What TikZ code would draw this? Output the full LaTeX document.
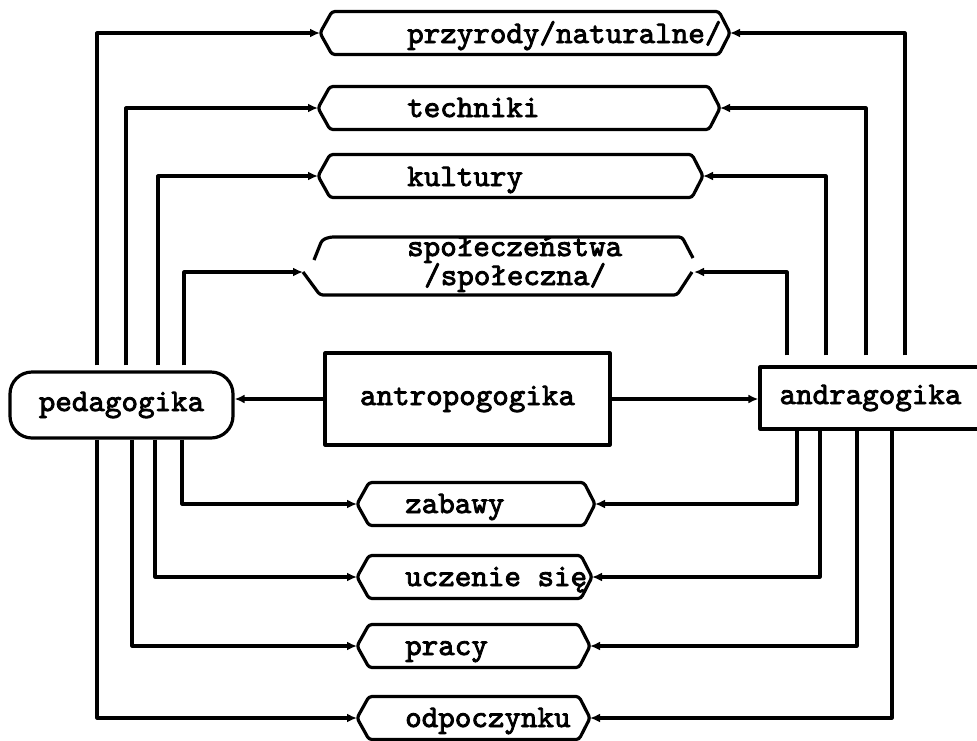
\documentclass[tikz,border=0pt]{standalone}
\usepackage{fontspec}
\usetikzlibrary{arrows.meta}
\newfontfamily\dgtt{lmmono10-regular.otf}[AutoFakeBold=2.6]
\newcommand\dgfont{\fontsize{31.5}{34}\selectfont\dgtt\bfseries}
\newcommand\hexa[4]{% name, left tip x, right tip x, centre y
  \draw[lw, rounded corners=3pt] (#2,#4) -- (#2+12,#4-21.5) -- (#3-11,#4-21.5) -- (#3,#4) -- (#3-11,#4+21.5) -- (#2+12,#4+21.5) -- cycle;
  \coordinate (#1-w) at (#2,#4);
  \coordinate (#1-e) at (#3,#4);}
\begin{document}
\begin{tikzpicture}[x=1pt,y=-1pt,
  lw/.style={line width=3.2pt, line join=round},
  conn/.style={lw, -{Latex[length=10pt,width=9pt]}},
  box/.style={draw, lw, inner sep=0pt, font=\dgfont},
  lbl/.style={font=\dgfont, inner sep=0pt, anchor=base west}]
\useasboundingbox (0,0) rectangle (977,740);
\fill[white] (0,0) rectangle (977,740);

% main boxes
\node[box, rounded corners=22pt, minimum width=223pt, minimum height=66pt] (ped) at (121.5,405) {pedagogika};
\node[box, minimum width=285pt, minimum height=92pt] (antro) at (467.5,399) {antropogogika};
\node[box, minimum width=221pt, minimum height=62pt] (andra) at (870.5,398) {andragogika};

% hexagon boxes
\hexa{przy}{320}{730}{33}
\hexa{tech}{318}{720}{108}
\hexa{kult}{318}{703}{176}
\hexa{zab}{357}{595}{504}
\hexa{ucz}{357}{592}{577}
\hexa{prac}{357}{590}{646}
\hexa{odp}{357}{590}{718}

% broken box: spoleczenstwa
\draw[lw, rounded corners=3pt] (314,260) -- (322,240) -- (330,237) -- (682,237) -- (693,258);
\draw[lw, rounded corners=3pt] (303,272) -- (320,295) -- (677,295) -- (692,272);
\coordinate (spol-w) at (303,272);
\coordinate (spol-e) at (694,272);

% labels
\node[lbl] (t-przy) at (407,43) {przyrody/naturalne/};
\node[lbl] (t-tech) at (407,117) {techniki};
\node[lbl] (t-kult) at (407,186) {kultury};
\node[lbl] (t-spol1) at (407,256) {społeczeństwa};
\node[lbl] (t-spol2) at (424,285) {/społeczna/};
\node[lbl] (t-zab) at (405,513) {zabawy};
\node[lbl] (t-ucz) at (405,586) {uczenie się};
\node[lbl] (t-prac) at (405,655) {pracy};
\node[lbl] (t-odp) at (405,727) {odpoczynku};

% central arrows
\draw[conn] (antro.west) -- (antro.west -| ped.east);
\draw[conn] (antro.east) -- (antro.east -| andra.west);

% pedagogika -> upper boxes
\draw[conn, shorten <=5pt] ([xshift=-24.5pt]ped.north) |- (przy-w);
\draw[conn, shorten <=5pt] ([xshift=4.5pt]ped.north) |- (tech-w);
\draw[conn, shorten <=5pt] ([xshift=36.5pt]ped.north) |- (kult-w);
\draw[conn, shorten <=5pt] ([xshift=62.5pt]ped.north) |- (spol-w);

% pedagogika -> lower boxes
\draw[conn] ([xshift=60.5pt]ped.south) |- (zab-w);
\draw[conn] ([xshift=33.5pt]ped.south) |- (ucz-w);
\draw[conn] ([xshift=10.5pt]ped.south) |- (prac-w);
\draw[conn] ([xshift=-24.5pt]ped.south) |- (odp-w);

% andragogika -> upper boxes
\draw[conn, shorten <=10pt] ([xshift=34.5pt]andra.north) |- (przy-e);
\draw[conn, shorten <=10pt] ([xshift=-4.5pt]andra.north) |- (tech-e);
\draw[conn, shorten <=10pt] ([xshift=-44.5pt]andra.north) |- (kult-e);
\draw[conn, shorten <=10pt] ([xshift=-83.5pt]andra.north) |- (spol-e);

% andragogika -> lower boxes
\draw[conn] ([xshift=-73.5pt]andra.south) |- (zab-e);
\draw[conn] ([xshift=-50.5pt]andra.south) |- (ucz-e);
\draw[conn] ([xshift=-13.5pt]andra.south) |- (prac-e);
\draw[conn] ([xshift=21.5pt]andra.south) |- (odp-e);
\end{tikzpicture}
\end{document}
